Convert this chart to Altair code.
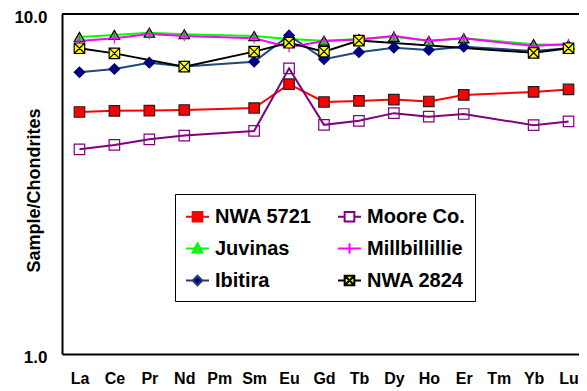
import altair as alt
import pandas as pd

FONT = "Arial, Liberation Sans, sans-serif"

elements = ["La", "Ce", "Pr", "Nd", "Pm", "Sm", "Eu", "Gd", "Tb", "Dy", "Ho", "Er", "Tm", "Yb", "Lu"]
# legend fills column by column: left column first, then right column
series_names = ["NWA 5721", "Juvinas", "Ibitira", "Moore Co.", "Millbillillie", "NWA 2824"]

nwa5721 = [5.15, 5.19, 5.20, 5.22, None, 5.29, 6.22, 5.51, 5.55, 5.60, 5.53, 5.78, None, 5.90, 6.00]
juvinas = [8.56, 8.68, 8.81, 8.72, None, 8.61, 8.44, 8.35, 8.44, 8.57, 8.33, 8.48, None, 8.15, 8.11]
ibitira = [6.74, 6.89, 7.19, 7.01, None, 7.24, 8.65, 7.36, 7.72, 7.96, 7.84, 8.01, None, 7.78, 7.93]
moore = [4.00, 4.12, 4.28, 4.39, None, 4.53, 6.92, 4.72, 4.85, 5.11, 4.99, 5.08, None, 4.71, 4.83]
millbillillie = [8.33, 8.48, 8.73, 8.61, None, 8.48, 7.98, 8.33, 8.41, 8.61, 8.35, 8.48, None, 8.05, 8.16]
nwa2824 = [7.93, 7.66, None, 7.00, None, 7.75, 8.23, 7.75, 8.35, None, None, None, None, 7.69, 7.93]

series_values = [nwa5721, juvinas, ibitira, moore, millbillillie, nwa2824]

line_colors = ["#FF0000", "#00FF00", "#1F497D", "#800080", "#FF00FF", "#000000"]
line_widths = [2, 2, 2, 1.5, 2, 1]
marker_shapes = [
    "square",
    "triangle-up",
    "diamond",
    "square",
    "M-1,0H1M0,-1V1",
    "M-1,-1H1V1H-1ZM-1,-1L1,1M-1,1L1,-1",
]
marker_fills = ["#FF0000", "#22DD22", "#000080", "transparent", "transparent", "#FFFF00"]
marker_strokes = ["#222222", "#000000", "#000080", "#800080", "#FF00FF", "#000000"]
legend_shapes = [
    "M-1,0H-0.42M0.42,0H1M-0.42,-0.42H0.42V0.42H-0.42Z",
    "M-1,0H-0.24M0.24,0H1M0,-0.45L0.42,0.35H-0.42Z",
    "M-1,0H-0.42M0.42,0H1M0,-0.42L0.42,0L0,0.42L-0.42,0Z",
    "M-1,0H-0.42M0.42,0H1M-0.42,-0.42H0.42V0.42H-0.42Z",
    "M-1,0H1M0,-0.45V0.45",
    "M-1,0H-0.42M0.42,0H1M-0.42,-0.42H0.42V0.42H-0.42ZM-0.42,-0.42L0.42,0.42M-0.42,0.42L0.42,-0.42",
]
legend_fills = ["#FF0000", "#22EE22", "#000080", "transparent", "transparent", "#FFFF00"]
legend_strokes = ["#FF0000", "#00FF00", "#1F3F6F", "#800080", "#FF00FF", "#000000"]

rows = []
for name, vals in zip(series_names, series_values):
    for el, v in zip(elements, vals):
        if v is not None:
            rows.append({"element": el, "series": name, "value": v})
df = pd.DataFrame(rows)

x_scale = alt.Scale(type="point", domain=elements, padding=0.5, range=[0, 524])
y_scale = alt.Scale(type="log", domain=[1, 10])

x_axis = alt.X(
    "element:N",
    scale=x_scale,
    axis=alt.Axis(
        title=None, labelFont=FONT, labelFontSize=16, labelFontWeight="bold",
        labelColor="black", labelAngle=0, ticks=False, labelPadding=16,
        domain=True, domainColor="black", domainWidth=2, grid=False,
    ),
)
y_axis = alt.Y(
    "value:Q",
    scale=y_scale,
    axis=alt.Axis(
        title="Sample/Chondrites", values=[1, 10],
        labelExpr="format(datum.value, '.1f')",
        labelFont=FONT, labelFontSize=17, labelFontWeight="bold", labelColor="black",
        labelPadding=15, labelOffset=3, ticks=False, grid=False,
        domain=True, domainColor="black", domainWidth=2,
        titleFont=FONT, titleFontSize=18, titleFontWeight="bold", titleColor="black",
        titleX=-19, titleY=176, titleAlign="center",
    ),
)

lines = alt.Chart(df).mark_line().encode(
    x=x_axis,
    y=y_axis,
    color=alt.Color("series:N", scale=alt.Scale(domain=series_names, range=line_colors), legend=None),
    strokeWidth=alt.StrokeWidth("series:N", scale=alt.Scale(domain=series_names, range=line_widths), legend=None),
)

# top frame line at the 10.0 level of the log scale
top_frame = alt.Chart(df).mark_rule(color="black", strokeWidth=2).encode(
    y=alt.datum(10, scale=y_scale)
)

points = alt.Chart(df).mark_point(opacity=1, strokeWidth=1.2).encode(
    x=alt.X("element:N", scale=x_scale),
    y=alt.Y("value:Q", scale=y_scale),
    shape=alt.Shape("series:N", scale=alt.Scale(domain=series_names, range=marker_shapes), legend=None),
    fill=alt.Fill("series:N", scale=alt.Scale(domain=series_names, range=marker_fills), legend=None),
    stroke=alt.Stroke("series:N", scale=alt.Scale(domain=series_names, range=marker_strokes), legend=None),
    size=alt.value(110),
)

leg = alt.Legend(
    title=None, orient="none", legendX=113, legendY=180, columns=2,
    symbolSize=529, symbolStrokeWidth=2,
    labelFont=FONT, labelFontSize=20, labelFontWeight="bold", labelColor="black",
    labelOffset=5, labelLimit=300,
    fillColor="white", strokeColor="black",
    padding=10, rowPadding=9, columnPadding=22,
)

legend_layer = alt.Chart(df).transform_filter("false").mark_point(opacity=1).encode(
    x=alt.X("element:N", scale=x_scale),
    y=alt.Y("value:Q", scale=y_scale),
    shape=alt.Shape("series:N", scale=alt.Scale(domain=series_names, range=legend_shapes), legend=leg),
    fill=alt.Fill("series:N", scale=alt.Scale(domain=series_names, range=legend_fills), legend=leg),
    stroke=alt.Stroke("series:N", scale=alt.Scale(domain=series_names, range=legend_strokes), legend=leg),
)

chart = (
    alt.layer(lines, top_frame, points, legend_layer)
    .resolve_scale(shape="independent", fill="independent", stroke="independent")
    .properties(
        width=517, height=340, autosize="none",
        padding={"left": 54, "top": 6, "right": 0, "bottom": 35},
        background="white",
    )
    .configure_view(stroke=None)
)

chart.save("out.html", embed_options={"renderer": "svg", "actions": False})
